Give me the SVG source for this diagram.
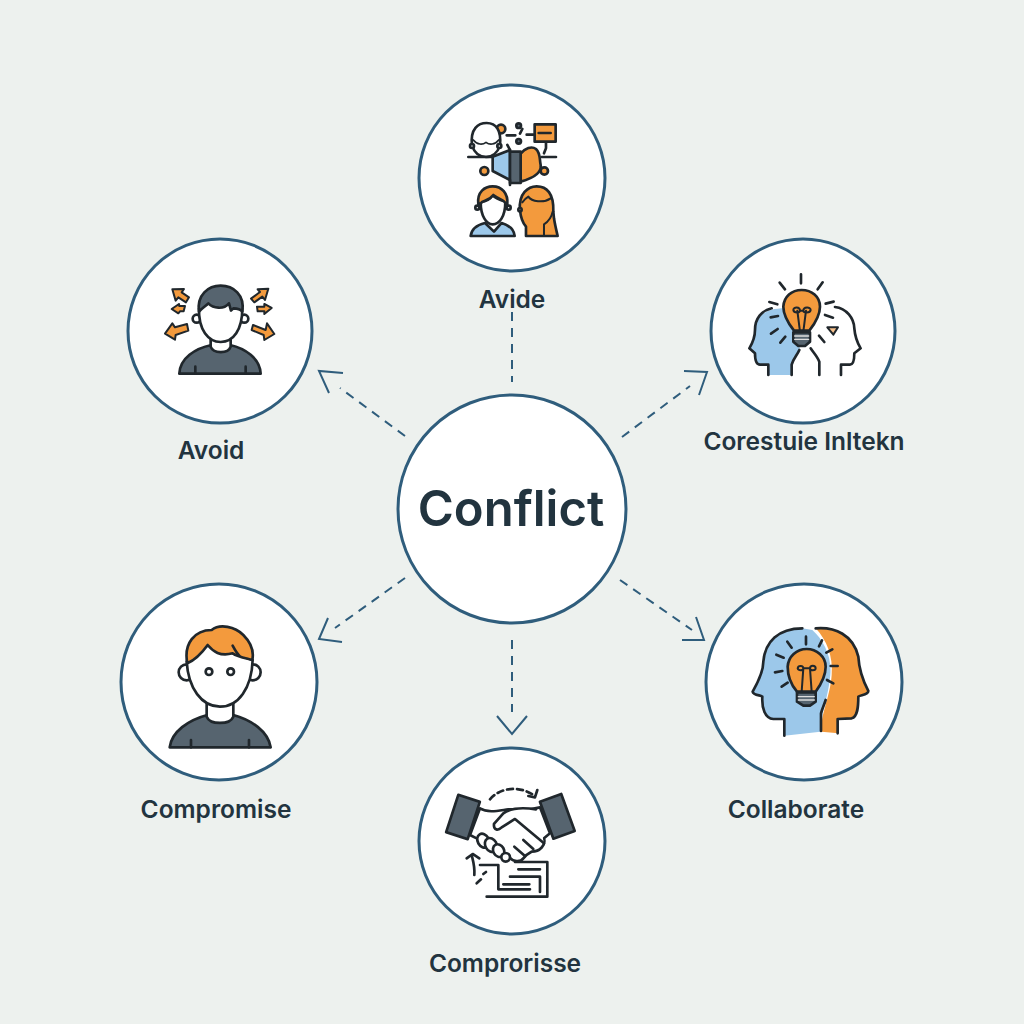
<svg xmlns="http://www.w3.org/2000/svg" width="1024" height="1024" viewBox="0 0 1024 1024">
<style>
.n{fill:#fff;stroke:#2f5d7c;stroke-width:3}
.c{fill:none;stroke:#2f5d7c;stroke-width:2}
.d{stroke-dasharray:9 7}
.l{font-family:"Inter","Liberation Sans",sans-serif;font-weight:600;font-size:24.5px;fill:#22343f;text-anchor:middle}
.i{stroke:#20272c;stroke-width:8;stroke-linejoin:round;stroke-linecap:round;fill:none}
.w{fill:#fff}.o{fill:#f39a3d}.b{fill:#9cc8ea}.g{fill:#56646f}
.a{fill:#f39a3d;stroke:#20272c;stroke-width:6;stroke-linejoin:round}
</style>
<rect width="1024" height="1024" fill="#edf1ee"/>
<g id="connectors" class="c">
<path class="d" d="M512 312V382"/>
<path class="d" d="M405 436L340 388"/><path d="M329 393L319 371L343 373"/>
<path class="d" d="M622 437L690 386"/><path d="M684 371L707 372L699 395"/>
<path class="d" d="M405 578L335 628"/><path d="M342 642L319 639L328 618"/>
<path class="d" d="M620 580L692 630"/><path d="M682 640L704 640L696 617"/>
<path class="d" d="M512 640V712"/><path d="M497 716L512 734L527 716"/>
</g>
<g id="node-center"><circle class="n" cx="512" cy="509" r="114"/>
<text x="511" y="526" text-anchor="middle" style="font-family:Inter,'Liberation Sans',sans-serif;font-weight:600;font-size:49px;fill:#22343f">Conflict</text></g>

<g id="node-top"><circle class="n" cx="512" cy="178" r="93"/>
<g transform="translate(420 85) scale(.3333)" class="i">
<circle class="o" cx="243" cy="132" r="13"/>
<path class="w" d="M156 182C150 130 175 114 200 114C228 114 245 135 240 182C232 205 215 216 198 216C180 216 164 205 156 182Z"/>
<path stroke-width="5" d="M160 165C172 180 188 180 198 172C208 180 225 180 236 165"/><circle class="w" cx="156" cy="183" r="6"/><circle class="w" cx="238" cy="183" r="6"/>
<path d="M145 216H215M365 216H408"/>
<path d="M260 151H286M320 149H340M307 132L300 146"/>
<circle cx="296" cy="122" r="7" fill="#56646f"/><circle cx="296" cy="169" r="7" fill="#56646f"/>
<rect class="o" x="344" y="118" width="63" height="52"/><path d="M356 144H392M378 172V190M372 205L378 190"/>
<circle class="o" cx="193" cy="258" r="12"/><circle class="o" cx="373" cy="258" r="11"/>
<path class="o" d="M302 206C315 190 335 182 348 192C362 205 358 222 362 240C365 262 345 278 302 290Z"/>
<path class="b" d="M218 215L270 195V285L218 258Z"/>
<rect class="g" x="270" y="200" width="32" height="94"/>
<path d="M262 180L270 195M270 285V300"/>
<path class="b" d="M152 453C155 430 170 420 195 414L222 440L245 414C265 420 282 430 284 453Z"/>
<path class="w" d="M182 350C182 395 200 418 218 418C238 418 256 395 256 350C240 345 225 340 218 330C210 345 195 350 182 350Z"/>
<path class="o" d="M175 358C170 320 195 304 218 304C245 304 265 325 262 358L256 355C255 345 240 345 220 330C205 350 190 345 182 355Z"/>
<circle class="w" cx="172" cy="368" r="6"/><circle class="w" cx="266" cy="368" r="6"/>
<path class="o" d="M300 376C295 325 325 304 350 304C380 304 402 325 400 380L402 400C405 420 410 440 413 453H318V425C305 410 302 395 300 376Z"/>
<path stroke-width="6" d="M307 352C315 342 320 338 325 335C335 350 370 355 392 340M372 453V418C385 410 395 395 398 380"/>
<circle class="w" cx="300" cy="374" r="5"/>
</g></g>
<text class="l" x="512" y="308">Avide</text>

<g id="node-avoid"><circle class="n" cx="220" cy="331" r="92"/>
<g transform="translate(125 240) scale(.3333)" class="i">
<path class="g" d="M163 401C165 355 210 325 260 315H315C360 325 405 355 407 401Z"/>
<path class="w" d="M257 298V320C265 342 310 342 317 320V298Z"/>
<circle class="w" cx="215" cy="236" r="12"/><circle class="w" cx="358" cy="236" r="12"/>
<path class="w" d="M222 205C220 270 250 306 287 306C325 306 352 270 352 205L290 170Z"/>
<path class="g" d="M222 215C215 165 250 137 287 137C325 137 360 165 352 215C345 205 335 205 325 205L318 212L312 190C295 210 265 205 250 190C240 200 230 205 222 215Z"/>
<path d="M211 380V400M362 380V400"/>
<g class="a"><path d="M192 172L170 157L177 147L142 148L152 182L160 172L183 187Z"/>
<path d="M180 198H163L162 192L140 207L160 220L165 214H176Z"/>
<path d="M186 252L150 262L142 250L120 281L150 299L152 285L190 272Z"/>
<path d="M378 176L405 156L398 148L430 146L420 180L412 170L388 187Z"/>
<path d="M396 200H418V192L440 204L418 222V214H398Z"/>
<path d="M384 255L422 270L426 250L448 282L418 300L416 285L380 270Z"/></g>
</g></g>
<text class="l" x="211" y="459">Avoid</text>

<g id="node-right-top"><circle class="n" cx="803" cy="331" r="92"/>
<g transform="translate(710 240) scale(.3333)" class="i">
<path fill="#9cc8ea" stroke="none" d="M175 405V372H150C135 372 135 355 135 345L118 325C130 305 133 290 135 260C140 225 170 205 225 205L270 320L245 375V405Z"/>
<path d="M185 205C155 212 135 235 135 270C135 290 130 305 118 325L135 340C135 360 138 374 150 374H175V405M245 405V374C250 355 262 345 268 330"/>
<path d="M375 201C410 205 432 235 433 265C435 290 440 305 452 325L433 340C433 360 430 374 420 374H393V405M328 405V365C322 350 312 340 302 325"/>
<path class="o" d="M252 272C235 250 220 225 220 200C222 170 245 150 275 150C305 150 330 170 330 200C330 225 315 250 298 272Z"/>
<path stroke-width="6" d="M262 212L270 275M288 212L280 275M250 210C250 200 270 200 270 212C270 220 252 220 250 210ZM280 212C280 200 302 200 302 210C300 220 280 220 280 212ZM270 212H280"/>
<path fill="#56646f" d="M250 277H300V305L285 318H265L250 305Z"/><path stroke="#ddd" stroke-width="4" d="M254 288H296M254 298H296"/>
<path d="M273 103V130M209 128L225 148M338 127L323 148M178 186L202 193M347 191L371 185M182 232L204 228M345 225L369 233M183 281L203 267M211 308L226 290M327 287L343 306"/>
<path stroke-width="6" d="M352 262H384L370 284Z" fill="#f7c08a"/>
</g></g>
<text class="l" x="804" y="450">Corestuie Inltekn</text>

<g id="node-compromise-left"><circle class="n" cx="219" cy="682" r="98"/>
<g transform="translate(120 585) scale(.3333)" class="i">
<path class="g" d="M149 487C155 440 205 405 262 390H340C395 405 445 440 452 487Z"/>
<path class="w" d="M260 355V395C270 420 330 420 340 395V355Z"/>
<circle class="w" cx="200" cy="262" r="24"/><circle class="w" cx="398" cy="262" r="24"/>
<path class="w" d="M200 230C205 310 245 365 300 365C355 365 395 310 398 225L265 180Z"/>
<path class="o" d="M202 235C190 175 225 135 275 135C300 115 345 125 370 150C395 175 402 200 397 225C370 218 352 215 338 205C300 215 280 200 263 180C245 205 225 225 202 235Z"/>
<path d="M338 182C345 195 350 205 358 212M213 465V487M387 465V487"/>
<circle cx="267" cy="260" r="10" class="w"/><circle cx="332" cy="260" r="10" class="w"/>
</g></g>
<text class="l" x="216" y="818">Compromise</text>

<g id="node-collaborate"><circle class="n" cx="804" cy="682" r="98"/>
<g transform="translate(705 585) scale(.3333)">
<path class="o" d="M332 130C390 125 445 150 460 215C462 250 470 280 490 318C490 330 465 330 460 335C460 365 458 395 440 400L400 402V445L350 440C345 390 375 340 380 270C385 215 365 165 332 130Z"/>
<path class="b" d="M292 130C220 130 180 170 175 230C175 260 160 290 143 320C145 332 170 330 172 335C170 370 180 400 205 402H238V452L346 440C345 390 370 340 376 270C381 215 356 165 322 135Z"/>
<g class="i">
<path d="M292 130C220 130 180 170 175 230C175 260 160 290 143 320C145 332 170 330 172 335C170 370 180 400 205 402H238V452"/>
<path d="M332 130C390 125 445 150 460 215C462 250 470 280 490 318C490 330 465 330 460 335C460 365 458 395 440 400L398 402V445M348 438V385C352 370 358 358 362 345"/>
<path class="o" d="M276 320C255 295 248 270 248 245C250 215 275 192 305 192C335 192 362 215 362 245C362 270 350 295 332 320Z"/>
<path stroke-width="6" d="M295 250L290 320M315 250L320 320M278 250C280 240 295 242 295 250C295 258 280 258 278 250ZM315 250C315 240 332 240 332 250C332 258 315 258 315 250ZM295 250H315"/>
<path fill="#56646f" d="M276 322H332V350L315 362H295L276 350Z"/><path stroke="#ddd" stroke-width="4" d="M280 335H328M280 345H328"/>
<path d="M303 155V178M247 170L260 188M351 166L342 184M214 209L236 218M364 203L382 193M210 262L232 258M377 243H398M230 305L248 293M366 285L385 295"/>
</g></g></g>
<text class="l" x="796" y="818">Collaborate</text>

<g id="node-compromise-bottom"><circle class="n" cx="512" cy="841" r="93"/>
<g transform="translate(420 750) scale(.3333)" class="i">
<path class="w" d="M180 175C205 190 235 182 265 178H330L360 172L390 250L372 265C378 285 360 305 335 305C325 310 320 312 310 325C300 338 280 335 268 322L220 300L170 265L150 255Z"/>
<path class="w" d="M348 178C310 172 275 172 250 190L222 222C220 242 235 242 245 232L285 207L372 280"/>
<ellipse class="w" cx="190" cy="272" rx="17" ry="22" transform="rotate(-30 190 272)"/>
<ellipse class="w" cx="213" cy="285" rx="17" ry="22" transform="rotate(-30 213 285)"/>
<ellipse class="w" cx="236" cy="302" rx="16" ry="20" transform="rotate(-30 236 302)"/>
<circle class="w" cx="257" cy="322" r="13"/>
<path d="M283 290L315 318M310 270L340 297"/>
<rect class="g" x="95" y="142" width="68" height="118" transform="rotate(18 129 201)"/>
<rect class="g" x="378" y="140" width="68" height="118" transform="rotate(-20 412 199)"/>
<path stroke-dasharray="18 12" d="M210 148C240 112 300 105 345 138"/><path d="M325 138L345 142L352 120"/>
<path d="M163 375C165 350 160 335 155 315M140 325L158 312L178 325M170 400L183 388M190 372L198 366"/>
<path d="M180 345H235V418H330M200 440H382V336H285M250 403H328M270 380H360V426M295 358H360"/>
</g></g>
<text class="l" x="505" y="972">Comprorisse</text>
</svg>
